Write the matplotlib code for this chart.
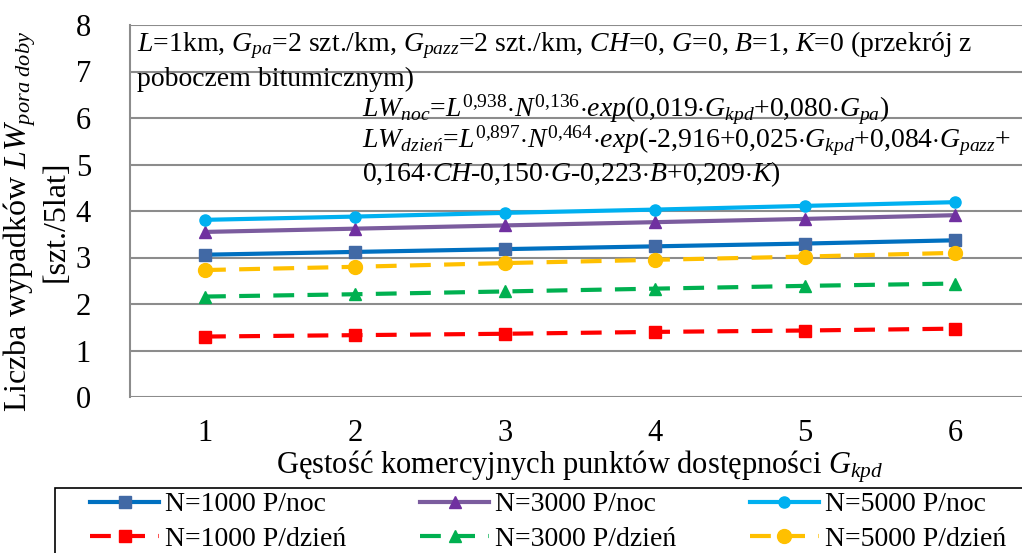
import numpy as np
import matplotlib
matplotlib.use("Agg")
import matplotlib.pyplot as plt
from matplotlib.patches import Rectangle

# ── DATA ───────────────────────────────────────────────────
g_kpd = [1, 2, 3, 4, 5, 6]

noc_1000 = [3.06, 3.12, 3.18, 3.24, 3.30, 3.37]
noc_3000 = [3.55, 3.62, 3.69, 3.76, 3.83, 3.91]
noc_5000 = [3.81, 3.88, 3.96, 4.03, 4.11, 4.19]
dzien_1000 = [1.30, 1.33, 1.36, 1.40, 1.43, 1.47]
dzien_3000 = [2.16, 2.21, 2.27, 2.33, 2.39, 2.44]
dzien_5000 = [2.73, 2.80, 2.88, 2.95, 3.02, 3.10]

labels = ["N=1000 P/noc", "N=3000 P/noc", "N=5000 P/noc",
          "N=1000 P/dzień", "N=3000 P/dzień", "N=5000 P/dzień"]

# ── STYLE ──────────────────────────────────────────────────
plt.rcParams.update({
    "font.family": "Liberation Serif",
    "mathtext.fontset": "custom",
    "mathtext.rm": "Liberation Serif",
    "mathtext.it": "Liberation Serif:italic",
    "mathtext.bf": "Liberation Serif:bold",
})
GRID = "#8c8c8c"
DASH = (0, (5, 3.2))

fig = plt.figure(figsize=(10.22, 5.53), dpi=100)
ax = fig.add_axes([130 / 1022, 1 - 397 / 553, 900 / 1022, 372 / 553])

series = [
    (noc_1000, "#0070C0", "s", "#4169A5", "-", 9),
    (noc_3000, "#7B5C9E", "^", "#7030A0", "-", 9),
    (noc_5000, "#00B0F0", "o", "#00B0F0", "-", 8),
    (dzien_1000, "#FF0000", "s", "#FF0000", DASH, 9),
    (dzien_3000, "#00B050", "^", "#00B050", DASH, 9),
    (dzien_5000, "#FFC000", "o", "#FFC000", DASH, 10),
]
handles = []
for (vals, lc, mk, mc, ls, ms), lab in zip(series, labels):
    h, = ax.plot(g_kpd, vals, color=lc, linestyle=ls, linewidth=3,
                 marker=mk, markersize=ms, markerfacecolor=mc,
                 markeredgecolor=mc, label=lab)
    handles.append(h)

ax.set_xlim(0.5, 6.5)
ax.set_ylim(0, 8)
ax.set_xticks(g_kpd)
ax.set_yticks(range(0, 9))
ax.tick_params(axis="both", length=0, labelsize=22)
ax.tick_params(axis="y", pad=28)
ax.tick_params(axis="x", pad=16)
ax.yaxis.grid(True, color=GRID, linewidth=1.5)
ax.set_axisbelow(True)
for s in ["top", "right", "bottom"]:
    ax.spines[s].set_visible(False)
ax.spines["left"].set_color(GRID)
ax.spines["left"].set_linewidth(1.5)

ax.set_xlabel(r"Gęstość komercyjnych punktów dostępności $G_{kpd}$",
              fontsize=22, labelpad=0)
ax.set_ylabel("Liczba wypadków $LW_{pora\\ doby}$\n[szt./5lat]",
              fontsize=23, multialignment="center", linespacing=1.15)
ax.yaxis.set_label_coords(-0.066, 0.473)

# ── ANNOTATIONS ────────────────────────────────────────────
fs = 20
fig.text(137 / 1022, 1 - 45 / 553,
         r"$L$=1km, $G_{pa}$=2 szt./km, $G_{pazz}$=2 szt./km, $CH$=0, $G$=0, $B$=1, $K$=0 (przekrój z",
         fontsize=fs, va="center")
fig.text(137 / 1022, 1 - 79 / 553, "poboczem bitumicznym)",
         fontsize=fs, va="center")
fig.text(362 / 1022, 1 - 110 / 553,
         r"$LW_{noc}$=$L^{0{,}938}$$\cdot$$N^{0{,}136}$$\cdot$$exp($0,019$\cdot$$G_{kpd}$+0,080$\cdot$$G_{pa})$",
         fontsize=fs, va="center")
fig.text(362 / 1022, 1 - 141 / 553,
         r"$LW_{dzień}$=$L^{0{,}897}$$\cdot$$N^{0{,}464}$$\cdot$$exp($-2,916+0,025$\cdot$$G_{kpd}$+0,084$\cdot$$G_{pazz}$+",
         fontsize=fs, va="center")
fig.text(362 / 1022, 1 - 174 / 553,
         r"0,164$\cdot$$CH$-0,150$\cdot$$G$-0,223$\cdot$$B$+0,209$\cdot$$K)$",
         fontsize=fs, va="center")

# ── LEGEND ─────────────────────────────────────────────────
# frame drawn separately, it runs off the right and bottom edge
fig.patches.append(Rectangle((55 / 1022, -0.05), 1.0, 1 - 488 / 553 + 0.05,
                             transform=fig.transFigure, fill=False,
                             edgecolor="black", linewidth=1.2))
# legend fills column by column, so reorder to read row by row
order = [0, 3, 1, 4, 2, 5]
leg = fig.legend([handles[i] for i in order], [labels[i] for i in order],
                 loc="upper left", bbox_to_anchor=(90 / 1022, 1 - 492 / 553),
                 ncol=3, fontsize=20, frameon=False,
                 handlelength=2.5, columnspacing=2.65,
                 handletextpad=0.2, borderpad=0, labelspacing=0.32,
                 borderaxespad=0)

fig.savefig("out.png", dpi=100)
